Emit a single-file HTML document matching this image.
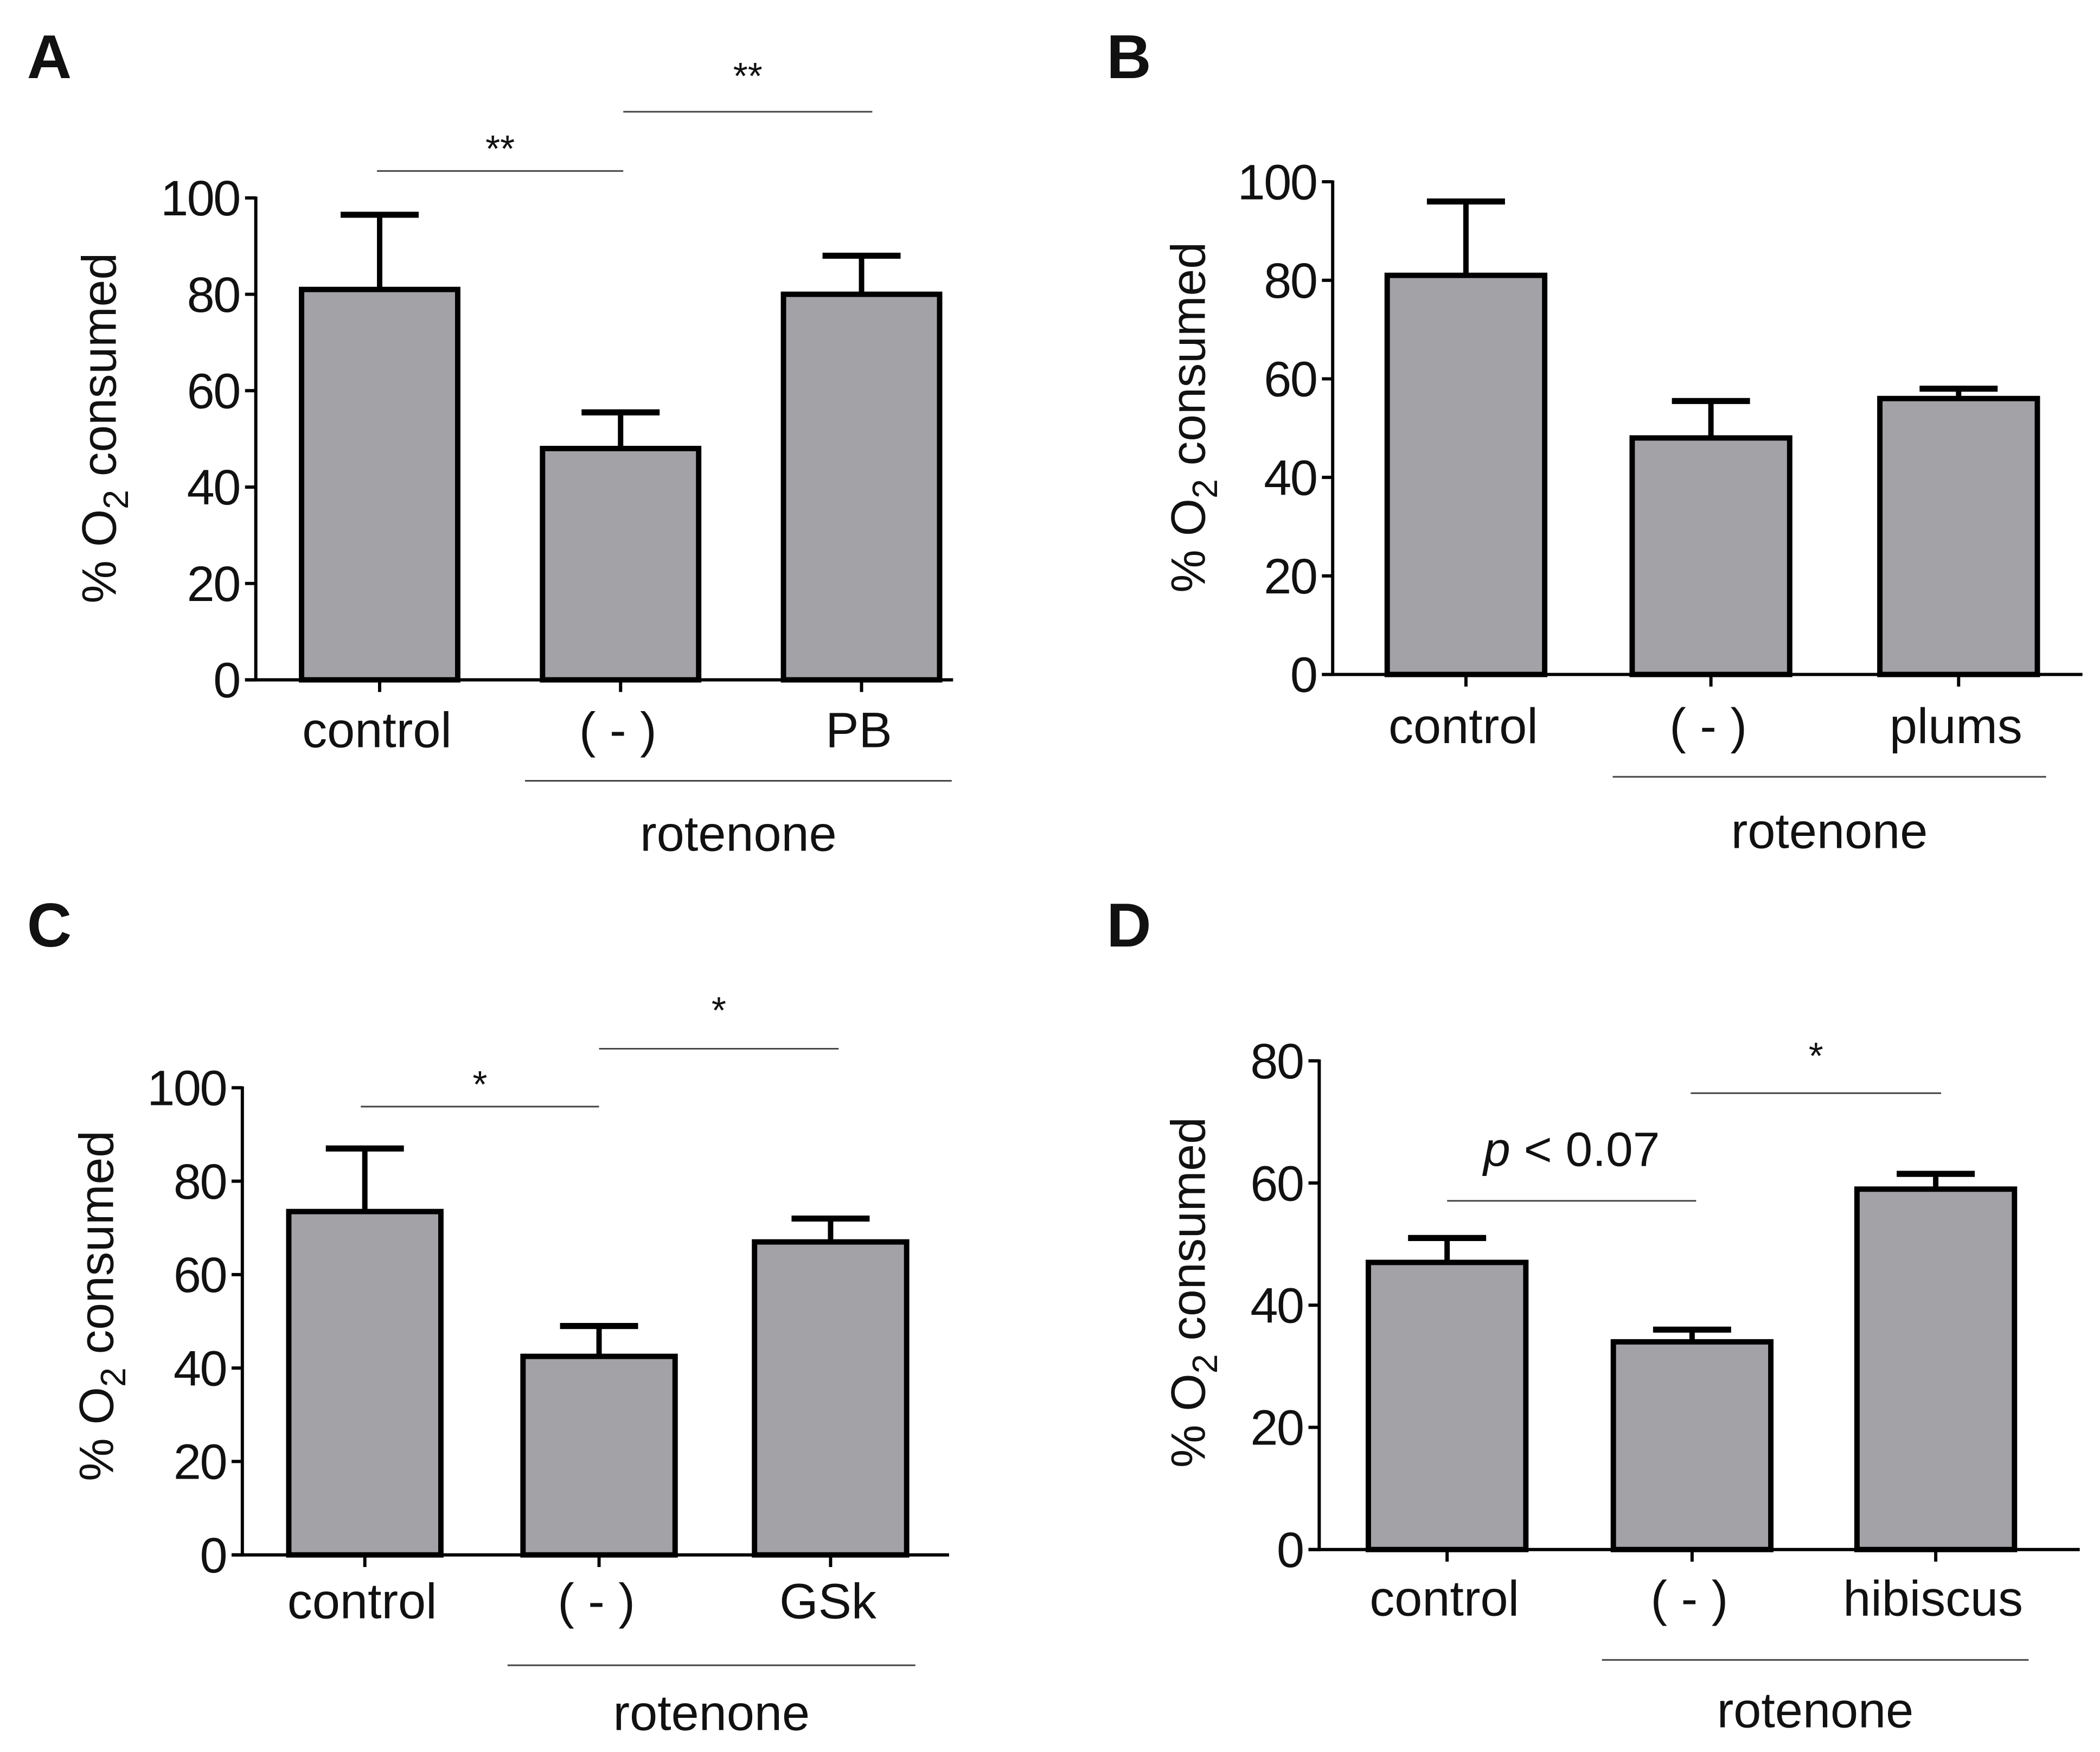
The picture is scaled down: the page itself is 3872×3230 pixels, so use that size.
<!DOCTYPE html>
<html><head><meta charset="utf-8"><style>
html,body{margin:0;padding:0;background:#fff}
svg{display:block}
text{font-family:"Liberation Sans",Arial,sans-serif;fill:#111}
</style></head><body>
<svg id="fig" width="3872" height="3230" viewBox="0 0 1560 1301.4" xmlns="http://www.w3.org/2000/svg"></svg>
<script>
// Panel data
const categoriesA = ["control", "( - )", "PB"];
const valuesA = [81, 48, 80];
const errorsA = [96.5, 55.5, 88];
const ticksA = [0, 20, 40, 60, 80, 100];

const categoriesB = ["control", "( - )", "plums"];
const valuesB = [81, 48, 56];
const errorsB = [96, 55.5, 58];
const ticksB = [0, 20, 40, 60, 80, 100];

const categoriesC = ["control", "( - )", "GSk"];
const valuesC = [73.5, 42.5, 67];
const errorsC = [87, 49, 72];
const ticksC = [0, 20, 40, 60, 80, 100];

const categoriesD = ["control", "( - )", "hibiscus"];
const valuesD = [47, 34, 59];
const errorsD = [51, 36, 61.5];
const ticksD = [0, 20, 40, 60, 80];

const NS = "http://www.w3.org/2000/svg";
const svg = document.getElementById("fig");
function mk(tag, attrs, parent, txt) {
  const e = document.createElementNS(NS, tag);
  for (const k in attrs) e.setAttribute(k, attrs[k]);
  if (txt !== undefined) e.textContent = txt;
  (parent || svg).appendChild(e);
  return e;
}

function panel(p) {
  const g = mk("g", {});
  
  
  const y = v => p.y0 - (v / p.ymax) * (p.y0 - p.ytop);
  const cx = i => p.centers[i];
  const hw = p.barW / 2;
  // letter
  const L = mk("text", {x: p.lx, y: p.ly, "font-size": 46, "font-weight": "bold"}, g, p.letter);
  
  
  // y axis
  const ya = mk("line", {x1: p.ax, y1: y(p.ymax) - 1, x2: p.ax, y2: p.y0 + 1.2, stroke: "#000", "stroke-width": 2.4}, g);
  
  
  p.ticks.forEach(t => {
    mk("line", {x1: p.ax - 8, y1: y(t), x2: p.ax, y2: y(t), stroke: "#000", "stroke-width": 2.4}, g);
    const tl = mk("text", {x: p.ax - 12, y: y(t) + 13, "font-size": 37, "text-anchor": "end", "letter-spacing": "-1"}, g, t);
    
    
  });
  // y title
  const yt = mk("text", {transform: `translate(${p.tx},${p.tyc}) rotate(-90)`, "font-size": 36, "text-anchor": "middle"}, g);
  
  
  mk("tspan", {}, yt, "% O");
  mk("tspan", {"font-size": 26, dy: 9}, yt, "2");
  mk("tspan", {dy: -9}, yt, " consumed");
  // bars
  p.values.forEach((v, i) => {
    const eb = mk("g", {}, g);
    
    
    mk("line", {x1: cx(i), y1: y(v), x2: cx(i), y2: y(p.errors[i]), stroke: "#000", "stroke-width": 4}, eb);
    mk("line", {x1: cx(i) - 29, y1: y(p.errors[i]), x2: cx(i) + 29, y2: y(p.errors[i]), stroke: "#000", "stroke-width": 4.5}, eb);
    const b = mk("rect", {x: cx(i) - hw, y: y(v), width: p.barW, height: p.y0 - y(v), fill: "#a3a2a7", stroke: "#000", "stroke-width": 4}, g);
    
    
    
    mk("line", {x1: cx(i), y1: p.y0, x2: cx(i), y2: p.y0 + 9, stroke: "#000", "stroke-width": 2.4}, g);
    const xl = mk("text", {x: cx(i) - 2, y: p.xlb, "font-size": 37, "text-anchor": "middle"}, g, p.categories[i]);
    
    
  });
  // x axis
  const xa = mk("line", {x1: p.ax - 8, y1: p.y0, x2: p.axEnd, y2: p.y0, stroke: "#000", "stroke-width": 2.4}, g);
  
  
  // rotenone group
  const rl = mk("line", {x1: p.rot[0], y1: p.rot[2], x2: p.rot[1], y2: p.rot[2], stroke: "#444", "stroke-width": 1.2}, g);
  
  
  const rt = mk("text", {x: (p.rot[0] + p.rot[1]) / 2, y: p.rot[3], "font-size": 37, "text-anchor": "middle"}, g, "rotenone");
  
  
  // significance
  p.sig.forEach(s => {
    const sl = mk("line", {x1: s[0], y1: s[2], x2: s[1], y2: s[2], stroke: "#444", "stroke-width": 1.2}, g);
    
    
    const st = mk("text", {x: (s[0] + s[1]) / 2, y: s[3], "font-size": s[5] || 28, "text-anchor": "middle"}, g);
    
    
    if (s[4] === "p") {
      mk("tspan", {"font-style": "italic"}, st, "p");
      mk("tspan", {}, st, " < 0.07");
    } else st.textContent = s[4];
  });
}

panel({letter: "A", lx: 20, ly: 58, categories: categoriesA, values: valuesA, errors: errorsA, ticks: ticksA, ymax: 100,
  ax: 190, y0: 505, ytop: 147, axEnd: 708, centers: [282, 461, 640], barW: 116, xlb: 555,
  tx: 86, tyc: 318, rot: [390, 707, 580, 632], sig: [[280, 463, 127, 120, "**"], [463, 648, 83, 66, "**"]]});
panel({letter: "B", lx: 822, ly: 58, categories: categoriesB, values: valuesB, errors: errorsB, ticks: ticksB, ymax: 100,
  ax: 990, y0: 501, ytop: 135, axEnd: 1547, centers: [1089, 1271, 1455], barW: 117, xlb: 552,
  tx: 895, tyc: 310, rot: [1198, 1520, 577, 630], sig: []});
panel({letter: "C", lx: 20, ly: 703, categories: categoriesC, values: valuesC, errors: errorsC, ticks: ticksC, ymax: 100,
  ax: 180, y0: 1155, ytop: 808, axEnd: 705, centers: [271, 445, 617], barW: 113, xlb: 1202,
  tx: 84, tyc: 970, rot: [377, 680, 1237, 1285], sig: [[268, 445, 822, 815, "*"], [445, 623, 779, 760, "*"]]});
panel({letter: "D", lx: 822, ly: 703, categories: categoriesD, values: valuesD, errors: errorsD, ticks: ticksD, ymax: 80,
  ax: 980, y0: 1151, ytop: 788, axEnd: 1545, centers: [1075, 1257, 1438], barW: 117, xlb: 1200,
  tx: 895, tyc: 960, rot: [1190, 1507, 1233, 1283], sig: [[1075, 1260, 892, 866, "p", 36], [1256, 1442, 812, 794, "*"]]});
</script>
</body></html>
